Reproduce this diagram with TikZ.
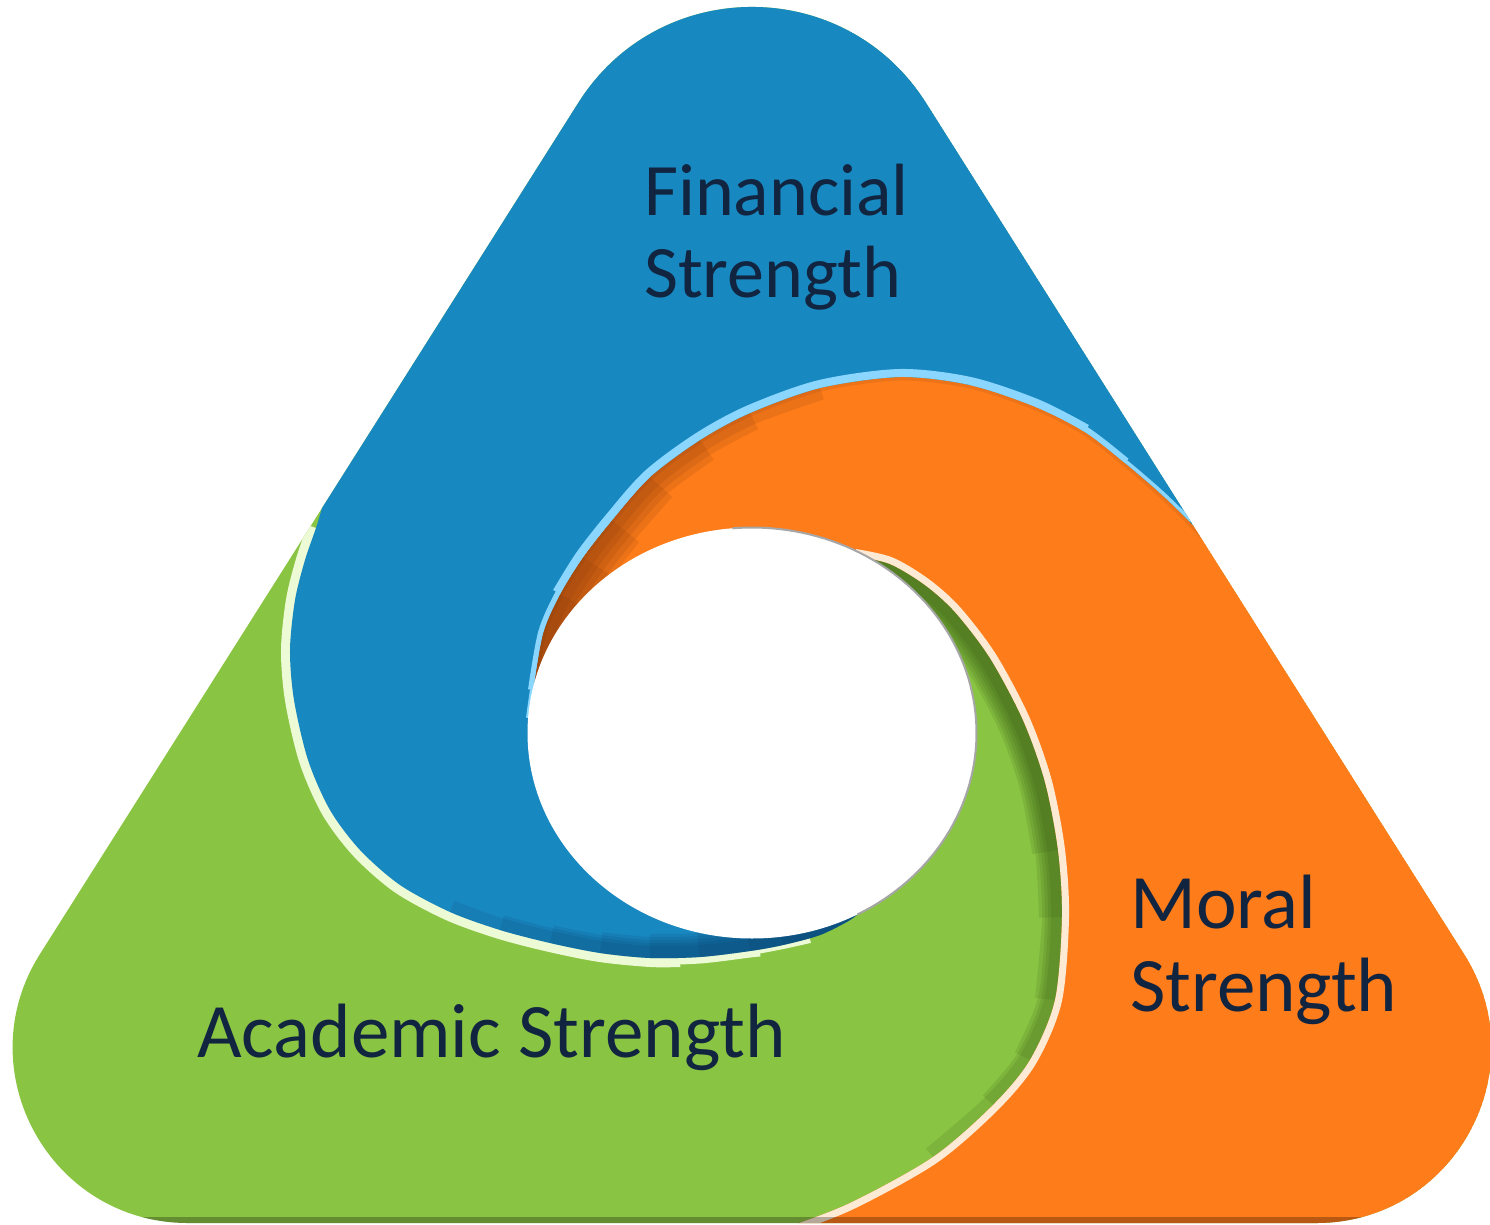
\documentclass[tikz,border=0pt]{standalone}
\usepackage{fontspec}
\setmainfont{Carlito}
\definecolor{cblue}{RGB}{24,136,192}
\definecolor{corange}{RGB}{254,124,26}
\definecolor{cgreen}{RGB}{138,196,67}
\definecolor{lightblue}{RGB}{138,214,255}
\definecolor{cream}{RGB}{253,234,212}
\definecolor{palegreen}{RGB}{236,250,214}
\definecolor{navy}{RGB}{17,36,64}
\definecolor{dkgreen}{RGB}{45,80,15}
\definecolor{dkorange}{RGB}{120,50,10}
\definecolor{dkblue}{RGB}{8,50,90}
\begin{document}
\begin{tikzpicture}[x=1pt,y=-1pt,
  lbl/.style={text=navy, inner sep=0pt, anchor=base west, font=\fontsize{74}{80}\selectfont},
  lblb/.style={lbl, font=\fontsize{77}{80}\selectfont},
  gsh/.style={dkgreen, opacity=0.13, line width=#1},
  osh/.style={dkorange, opacity=0.13, line width=#1},
  bsh/.style={dkblue, opacity=0.11, line width=#1}]
\useasboundingbox (0,0) rectangle (1490,1225);
\def\tri{(578.3,102.8) .. controls (659,-25) and (845,-25) .. (926,102.8) -- (1464,954) .. controls (1537.8,1070.7) and (1454,1223) .. (1316,1223) -- (188,1223) .. controls (50,1223) and (-33.8,1070.7) .. (40,954) -- cycle}
\def\orangeregion{(752,733) -- plot[smooth] coordinates {(529,718) (533,690) (543,633) (560,594) (583,557) (612,520) (650,477) (700,440) (750,413) (820,388) (900,377) (970,385) (1036,407) (1085,432) (1125,463) (1160,493) (1190,522) (1225,560) (1260,605)} -- (1700,605) -- (1700,1400) -- (740,1400) -- plot[smooth] coordinates {(740,1245) (780,1230) (850,1203) (933,1157) (993,1105) (1030,1060) (1055,1000) (1062,917) (1058,850) (1045,782) (1023,720) (990,658) (955,612) (925,585) (890,564) (855,556)} -- cycle}
\def\blueregion{(752,733) -- plot[smooth] coordinates {(862,910) (850,920) (820,935) (783,945) (750,951) (700,957) (650,958) (600,953) (550,943) (500,930) (450,912) (400,885) (360,850) (330,810) (308,760) (294,700) (290,650) (295,600) (305,560) (316,528) (325,500) (340,470) (360,440)} -- (100,440) -- (100,-400) -- (1700,-400) -- (1700,605) -- plot[smooth] coordinates {(1260,605) (1225,560) (1190,522) (1160,493) (1125,463) (1085,432) (1036,407) (970,385) (900,377) (820,388) (750,413) (700,440) (650,477) (612,520) (583,557) (560,594) (543,633) (533,690) (529,718)} -- cycle}
\begin{scope}
  \clip \tri;
  % green base
  \fill[cgreen] \tri;
  % pale green rim along blue/green boundary
  \draw[palegreen, line width=8pt] plot[smooth] coordinates {(810,939) (783,945) (750,951) (700,957) (650,958) (600,953)};
  \draw[palegreen, line width=13pt] plot[smooth] coordinates {(760,950) (750,951) (700,957) (650,958) (600,953) (550,943) (500,930)};
  \draw[palegreen, line width=18pt] plot[smooth] coordinates {(680,958) (650,958) (600,953) (550,943) (500,930) (450,912) (400,885) (360,850) (330,810) (308,760) (294,700) (290,650) (295,600) (305,560) (316,528)};
  % dark green shading along green/orange boundary
  \draw[gsh=52pt] plot[smooth] coordinates {(855,556) (890,564) (925,585) (955,612) (990,658) (1023,720) (1045,782) (1058,850)};
  \draw[gsh=46pt] plot[smooth] coordinates {(855,556) (890,564) (925,585) (955,612) (990,658) (1023,720) (1045,782) (1058,850) (1062,917)};
  \draw[gsh=40pt] plot[smooth] coordinates {(855,556) (890,564) (925,585) (955,612) (990,658) (1023,720) (1045,782) (1058,850) (1062,917) (1055,1000)};
  \draw[gsh=34pt] plot[smooth] coordinates {(855,556) (890,564) (925,585) (955,612) (990,658) (1023,720) (1045,782) (1058,850) (1062,917) (1055,1000) (1030,1060)};
  \draw[gsh=28pt] plot[smooth] coordinates {(855,556) (890,564) (925,585) (955,612) (990,658) (1023,720) (1045,782) (1058,850) (1062,917) (1055,1000) (1030,1060) (993,1105)};
  \draw[gsh=22pt] plot[smooth] coordinates {(855,556) (890,564) (925,585) (955,612) (990,658) (1023,720) (1045,782) (1058,850) (1062,917) (1055,1000) (1030,1060) (993,1105) (933,1157)};
  % orange arm
  \fill[corange] \orangeregion;
  \begin{scope}
    \clip \orangeregion;
    \draw[dkorange, opacity=0.12, line width=7pt] plot[smooth] coordinates {(529,718) (533,690) (543,633) (560,594) (583,557) (612,520) (650,477) (700,440) (750,413) (820,388) (900,377) (970,385) (1036,407) (1085,432) (1125,463) (1160,493) (1190,522) (1225,560) (1260,605)};
    \draw[osh=90pt] plot[smooth] coordinates {(529,718) (533,690) (543,633) (560,594)};
    \draw[osh=80pt] plot[smooth] coordinates {(529,718) (533,690) (543,633) (560,594) (583,557)};
    \draw[osh=70pt] plot[smooth] coordinates {(529,718) (533,690) (543,633) (560,594) (583,557) (612,520)};
    \draw[osh=60pt] plot[smooth] coordinates {(529,718) (533,690) (543,633) (560,594) (583,557) (612,520) (650,477)};
    \draw[osh=48pt] plot[smooth] coordinates {(529,718) (533,690) (543,633) (560,594) (583,557) (612,520) (650,477) (700,440)};
    \draw[osh=36pt] plot[smooth] coordinates {(529,718) (533,690) (543,633) (560,594) (583,557) (612,520) (650,477) (700,440) (750,413)};
    \draw[osh=24pt] plot[smooth] coordinates {(529,718) (533,690) (543,633) (560,594) (583,557) (612,520) (650,477) (700,440) (750,413) (820,388)};
    \draw[cream, line width=14pt] plot[smooth] coordinates {(855,556) (890,564) (925,585) (955,612) (990,658) (1023,720) (1045,782) (1058,850) (1062,917) (1055,1000) (1030,1060) (993,1105) (933,1157) (850,1203) (780,1230) (740,1245)};
  \end{scope}
  % blue arm
  \fill[cblue] \blueregion;
  \begin{scope}
    \clip \blueregion;
    \draw[bsh=60pt] plot[smooth] coordinates {(862,910) (850,920) (820,935) (783,945)};
    \draw[bsh=56pt] plot[smooth] coordinates {(862,910) (850,920) (820,935) (783,945) (750,951)};
    \draw[bsh=52pt] plot[smooth] coordinates {(862,910) (850,920) (820,935) (783,945) (750,951) (700,957)};
    \draw[bsh=48pt] plot[smooth] coordinates {(862,910) (850,920) (820,935) (783,945) (750,951) (700,957) (650,958)};
    \draw[bsh=42pt] plot[smooth] coordinates {(862,910) (850,920) (820,935) (783,945) (750,951) (700,957) (650,958) (600,953)};
    \draw[bsh=36pt] plot[smooth] coordinates {(862,910) (850,920) (820,935) (783,945) (750,951) (700,957) (650,958) (600,953) (550,943)};
    \draw[bsh=30pt] plot[smooth] coordinates {(862,910) (850,920) (820,935) (783,945) (750,951) (700,957) (650,958) (600,953) (550,943) (500,930)};
    \draw[bsh=24pt] plot[smooth] coordinates {(862,910) (850,920) (820,935) (783,945) (750,951) (700,957) (650,958) (600,953) (550,943) (500,930) (450,912)};
    \draw[lightblue, line width=6pt] plot[smooth] coordinates {(529,718) (533,690) (543,633) (560,594) (583,557) (612,520)};
    \draw[lightblue, line width=10pt] plot[smooth] coordinates {(533,690) (543,633) (560,594) (583,557) (612,520) (650,477)};
    \draw[lightblue, line width=7pt] plot[smooth] coordinates {(1036,407) (1085,432) (1125,463) (1160,493) (1190,522)};
    \draw[lightblue, line width=11pt] plot[smooth] coordinates {(970,385) (1036,407) (1085,432) (1125,463)};
    \draw[lightblue, line width=16pt] plot[smooth] coordinates {(560,594) (583,557) (612,520) (650,477) (700,440) (750,413) (820,388) (900,377) (970,385) (1036,407) (1085,432)};
  \end{scope}
  % central hole
  \fill[white] (752,733) ellipse [x radius=224.5, y radius=205.5];
  \draw[black!35, line width=2pt] plot[domain=-95:62, samples=80, variable=\t] ({752+224.5*cos(\t)},{733+205.5*sin(\t)});
  % bottom bevel
  \fill[black, opacity=0.28] (0,1217) rectangle (1490,1240);
\end{scope}
\node[lbl] (fin1) at (644,215) {Financial};
\node[lbl] (fin2) at (644,297) {Strength};
\node[lblb] (aca) at (197,1057) {Academic Strength};
\node[lblb] (mor1) at (1130,928) {Moral};
\node[lblb] (mor2) at (1130,1011) {Strength};
\end{tikzpicture}
\end{document}
